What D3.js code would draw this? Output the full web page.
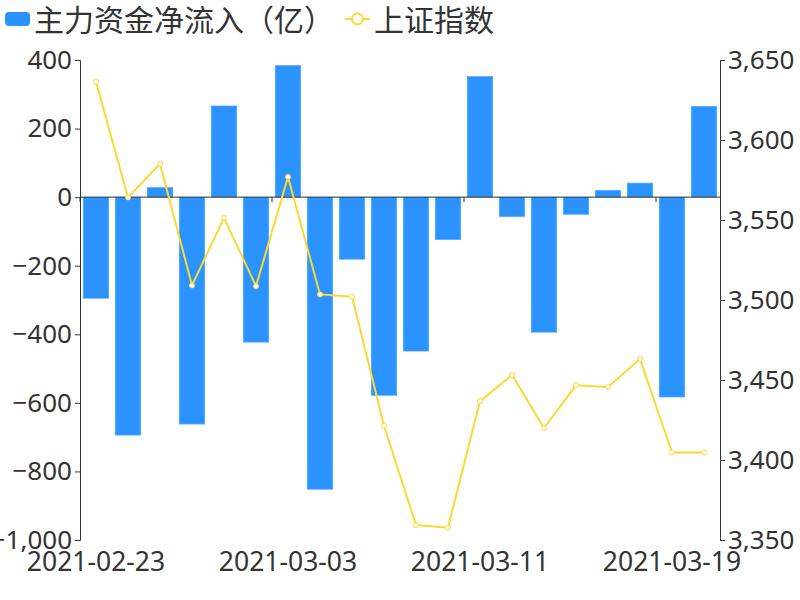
<!DOCTYPE html>
<html>
<head>
<meta charset="utf-8">
<script src="https://cdn.jsdelivr.net/npm/d3@7"></script>
<style>
  body { margin: 0; background: #fff; }
  text { font-family: "Noto Sans", "Noto Sans CJK SC", sans-serif; fill: #333; }
</style>
</head>
<body>
<script>
// data
var dates = ["2021-02-23", "2021-02-24", "2021-02-25", "2021-02-26", "2021-03-01",
  "2021-03-02", "2021-03-03", "2021-03-04", "2021-03-05", "2021-03-08",
  "2021-03-09", "2021-03-10", "2021-03-11", "2021-03-12", "2021-03-15",
  "2021-03-16", "2021-03-17", "2021-03-18", "2021-03-19", "2021-03-22"];
var netFlow = [-295, -694, 28, -662, 266, -423, 384, -852, -181, -578,
  -449, -124, 352, -57, -394, -50, 20, 41, -583, 265];
var shIndex = [3636.4, 3564.1, 3585.1, 3509.1, 3551.4, 3508.6, 3576.9, 3503.5, 3502.0, 3421.4,
  3359.3, 3357.7, 3436.8, 3453.1, 3420.0, 3446.7, 3445.6, 3463.1, 3404.7, 3404.7];
var leftTicks = [-1000, -800, -600, -400, -200, 0, 200, 400];
var rightTicks = [3350, 3400, 3450, 3500, 3550, 3600, 3650];
var labelIdx = [0, 6, 12, 18];

var width = 800, height = 600;
var margin = { top: 60, right: 80, bottom: 60, left: 80 };
var barColor = "#2b93ff", lineColor = "#fdd835";

var svg = d3.select("body").append("svg")
    .attr("width", width)
    .attr("height", height);

var x = d3.scaleBand()
    .domain(dates)
    .range([margin.left, width - margin.right])
    .paddingInner(0.2)
    .paddingOuter(0.1);
var step = x.step();

var y = d3.scaleLinear().domain([-1000, 400]).range([height - margin.bottom, margin.top]);
var y2 = d3.scaleLinear().domain([3350, 3650]).range([height - margin.bottom, margin.top]);

var fmt = d3.format(",");

// left axis
var gl = svg.append("g")
    .attr("transform", "translate(" + margin.left + ",0)")
    .call(d3.axisLeft(y).tickValues(leftTicks).tickFormat(fmt).tickSize(5).tickPadding(3));
gl.selectAll("text").style("font-size", "26px");

// right axis
var gr = svg.append("g")
    .attr("transform", "translate(" + (width - margin.right) + ",0)")
    .call(d3.axisRight(y2).tickValues(rightTicks).tickFormat(fmt).tickSize(5).tickPadding(3));
gr.selectAll("text").style("font-size", "26px");

svg.selectAll(".domain, .tick line").attr("stroke", "#333");

// bars
svg.append("g").selectAll("rect")
  .data(netFlow)
  .join("rect")
    .attr("x", function(d, i) { return x(dates[i]); })
    .attr("y", function(d) { return y(Math.max(0, d)); })
    .attr("width", x.bandwidth())
    .attr("height", function(d) { return Math.abs(y(d) - y(0)); })
    .attr("fill", barColor)
    .attr("stroke", "#5aabff")
    .attr("stroke-width", 0.6);

// x axis on the zero line
var gx = svg.append("g").attr("transform", "translate(0," + y(0) + ")");
gx.append("line")
    .attr("x1", margin.left).attr("x2", width - margin.right)
    .attr("stroke", "#333");
gx.selectAll(".xt")
  .data(labelIdx)
  .join("line")
    .attr("x1", function(i) { return x(dates[i]) - x.paddingOuter() * step; })
    .attr("x2", function(i) { return x(dates[i]) - x.paddingOuter() * step; })
    .attr("y1", 0).attr("y2", 5)
    .attr("stroke", "#333");

svg.append("g").selectAll("text")
  .data(labelIdx)
  .join("text")
    .attr("x", function(i) { return x(dates[i]) + x.bandwidth() / 2; })
    .attr("y", height - margin.bottom + 31)
    .attr("text-anchor", "middle")
    .style("font-size", "26.5px")
    .text(function(i) { return dates[i]; });

// index line
var line = d3.line()
    .x(function(d, i) { return x(dates[i]) + x.bandwidth() / 2; })
    .y(function(d) { return y2(d); });

svg.append("path")
    .datum(shIndex)
    .attr("fill", "none")
    .attr("stroke", lineColor)
    .attr("stroke-width", 2)
    .attr("d", line);

svg.append("g").selectAll("circle")
  .data(shIndex)
  .join("circle")
    .attr("cx", function(d, i) { return x(dates[i]) + x.bandwidth() / 2; })
    .attr("cy", function(d) { return y2(d); })
    .attr("r", 2.5)
    .attr("fill", "#fff")
    .attr("stroke", lineColor)
    .attr("stroke-width", 1);

// legend
var lg = svg.append("g");
lg.append("rect")
    .attr("x", 5).attr("y", 12).attr("width", 25).attr("height", 14).attr("rx", 4)
    .attr("fill", barColor);
lg.append("text")
    .attr("x", 34).attr("y", 31)
    .style("font-size", "30px")
    .text("主力资金净流入（亿）");
lg.append("line")
    .attr("x1", 345).attr("x2", 370).attr("y1", 19).attr("y2", 19)
    .attr("stroke", lineColor).attr("stroke-width", 2);
lg.append("circle")
    .attr("cx", 357.5).attr("cy", 19).attr("r", 5.5)
    .attr("fill", "#fff").attr("stroke", lineColor).attr("stroke-width", 2);
lg.append("text")
    .attr("x", 374).attr("y", 31)
    .style("font-size", "30px")
    .text("上证指数");
</script>
</body>
</html>
